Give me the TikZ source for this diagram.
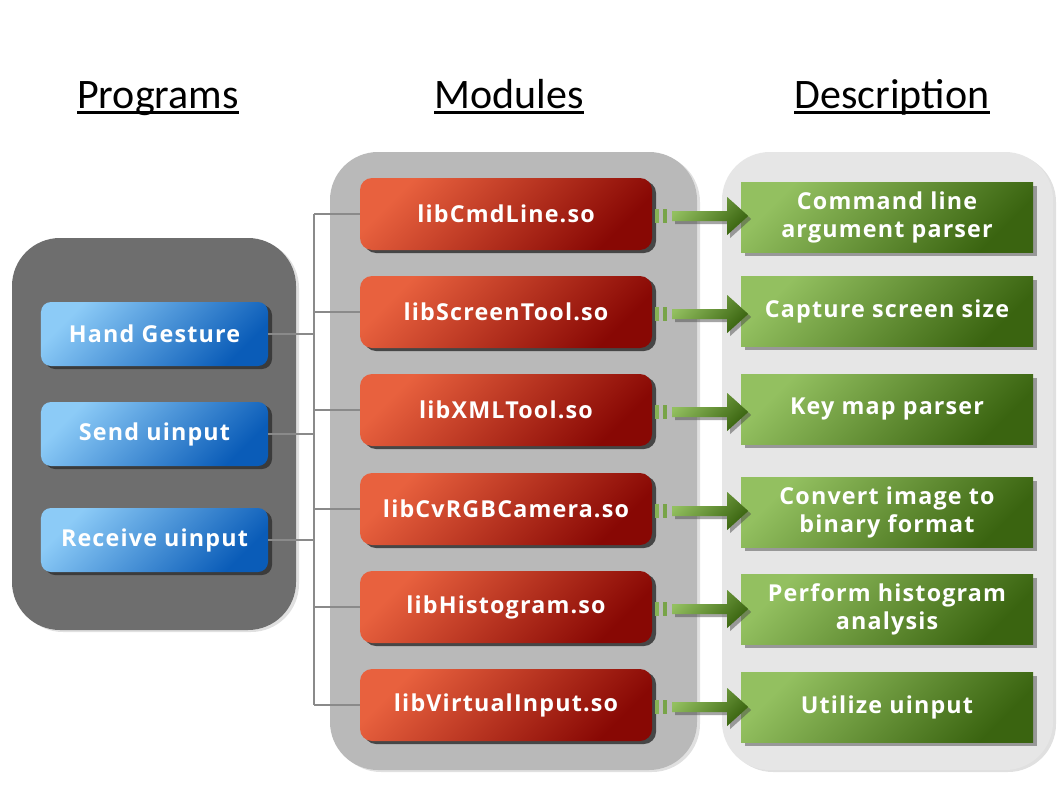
\documentclass[tikz,border=0pt]{standalone}
\usepackage{fontspec}
\setmainfont{Open Sans}
\newfontfamily\titlefont{Carlito}
\newfontfamily\boxfont[LetterSpace=5]{Open Sans}
\usetikzlibrary{shadows}
\definecolor{pandark}{HTML}{6E6E6E}
\definecolor{panmid}{HTML}{B9B9B9}
\definecolor{panlight}{HTML}{E6E6E6}
\definecolor{bluelight}{HTML}{8CCBF7}
\definecolor{bluedark}{HTML}{0A5CB8}
\definecolor{redlight}{HTML}{E8613E}
\definecolor{reddark}{HTML}{880804}
\definecolor{greenlight}{HTML}{93C060}
\definecolor{greendark}{HTML}{3A6410}
\definecolor{linegray}{HTML}{8A8A8A}
\begin{document}
\begin{tikzpicture}[x=1bp,y=-1bp,
  panel/.style={rounded corners=48bp, drop shadow={shadow xshift=3bp, shadow yshift=-2bp, opacity=0.12, fill=black}},
  boxtext/.style={text=white, font=\boxfont\bfseries\fontsize{23.3bp}{28bp}\selectfont, align=center, inner sep=0pt},
  progbox/.style={boxtext, minimum width=227bp, minimum height=64bp, rounded corners=10bp,
    top color=bluelight, bottom color=bluedark, shading angle=45,
    drop shadow={shadow xshift=4bp, shadow yshift=-3bp, opacity=0.85, fill=black!80}},
  modbox/.style={boxtext, minimum width=292bp, minimum height=72bp, rounded corners=12bp,
    top color=redlight, bottom color=reddark, shading angle=45,
    drop shadow={shadow xshift=4bp, shadow yshift=-3bp, opacity=0.85, fill=black!80}},
  descbox/.style={boxtext, minimum width=292bp, minimum height=70bp,
    top color=greenlight, bottom color=greendark, shading angle=45,
    drop shadow={shadow xshift=4bp, shadow yshift=-4bp, opacity=0.5, fill=black!70}},
  title/.style={font=\titlefont\fontsize{42bp}{42bp}\selectfont, inner sep=0pt, anchor=base},
  conn/.style={draw=linegray, line width=2bp},
  greenarrow/.style={top color=greenlight, bottom color=greendark, shading angle=45, draw=none}
]
\useasboundingbox (0,0) rectangle (1058,794);
\fill[white] (0,0) rectangle (1058,794);

% titles
\node[title] (t1) at (158,108) {Programs};
\node[title] (t2) at (509,108) {Modules};
\node[title] (t3) at (892,108) {Description};
\foreach \t in {t1,t2,t3}{
  \draw[line width=2.2bp] ([yshift=-4.5bp]\t.base west) -- ([yshift=-4.5bp]\t.base east);
}

% panels
\fill[pandark, panel] (12,238) rectangle (296,630);
\fill[panmid, panel] (330,152) rectangle (697,770);
\fill[panlight, panel] (722,152) rectangle (1053,770);

% programs
\node[progbox] (p1) at (154.5,334) {Hand Gesture};
\node[progbox] (p2) at (154.5,434) {Send uinput};
\node[progbox] (p3) at (154.5,540) {Receive uinput};

% modules
\node[modbox] (m1) at (506,214) {libCmdLine.so};
\node[modbox] (m2) at (506,312) {libScreenTool.so};
\node[modbox] (m3) at (506,410) {libXMLTool.so};
\node[modbox] (m4) at (506,509) {libCvRGBCamera.so};
\node[modbox] (m5) at (506,607) {libHistogram.so};
\node[modbox] (m6) at (506,705) {libVirtualInput.so};

% descriptions
\node[descbox] (d1) at (887,217) {Command line\\argument parser};
\node[descbox] (d2) at (887,311) {Capture screen size};
\node[descbox] (d3) at (887,409) {Key map parser};
\node[descbox] (d4) at (887,512) {Convert image to\\binary format};
\node[descbox] (d5) at (887,609) {Perform histogram\\analysis};
\node[descbox] (d6) at (887,707) {Utilize uinput};

% connectors
\coordinate (bus) at (314,0);
\draw[conn] (m1.west -| bus) -- (m6.west -| bus);
\foreach \i in {1,...,6}{
  \draw[conn] (m\i.west -| bus) -- (m\i.west);
}
\foreach \i in {1,2,3}{
  \draw[conn] (p\i.east) -- (p\i.east -| bus);
}

% arrows
\foreach \i in {1,...,6}{
  \begin{scope}[shift={([yshift=-2bp]m\i.east)}]
    \fill[greenlight!85!greendark] (3,-7) rectangle (7,7);
    \fill[greenlight!70!greendark] (11,-7) rectangle (15,7);
    \path[greenarrow, drop shadow={shadow xshift=3bp, shadow yshift=-3bp, opacity=0.5, fill=black!70}]
      (20,-5) -- (75,-5) -- (75,-19) -- (96,0) -- (75,19) -- (75,5) -- (20,5) -- cycle;
  \end{scope}
}
\end{tikzpicture}
\end{document}
